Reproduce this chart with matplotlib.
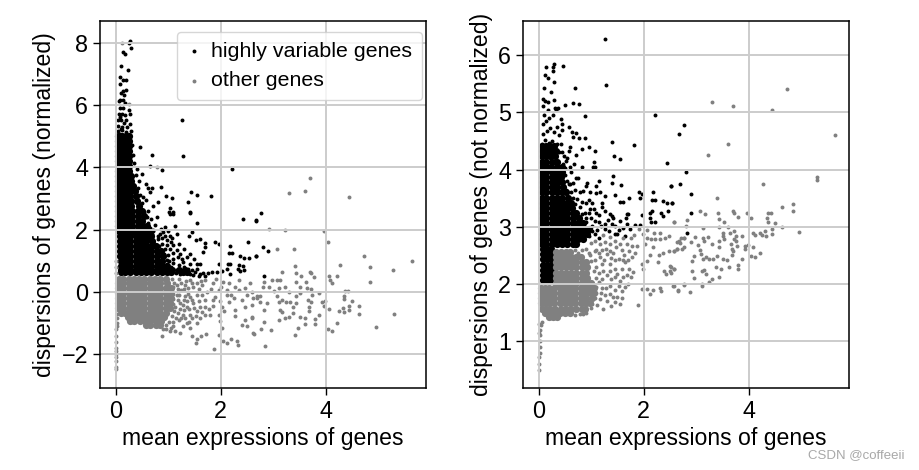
import numpy as np
import matplotlib
matplotlib.use("Agg")
import matplotlib.pyplot as plt

plt.rcParams['font.family'] = ['Liberation Sans', 'DejaVu Sans']

# values, as (mean, dispersion)
# ---- left panel, normalized dispersions ----
left_hv = [
    (.27,8.05),(.26,7.97),(.29,7.84),(.15,7.68),(.18,7.63),(.11,7.26),(.23,7.12),(.08,6.89),(.15,6.81),(.2,6.8),
    (.08,6.66),(.2,6.49),(.15,6.44),(.1,6.39),(.17,6.33),(.08,6.17),(.15,6.17),(.07,6.12),(.18,6.05),(1.26,5.51),
    (.46,4.65),(.7,4.4),(1.28,4.35),(.65,4.04),(.89,3.92),(2.22,3.94),(.5,3.78),(.58,3.45),(.86,3.36),(.69,3.33),
    (.62,3.33),(.65,3.2),(1.43,3.22),(1.54,3.11),(1.82,3.09),(.95,3.09),(1.07,3.0),(1.37,2.87),(.81,2.9),(.58,2.94),
    (.53,3.06),(.72,2.75),(1.03,2.69),(1.42,2.58),(1.02,2.55),(1.1,2.55),(2.43,2.34),(2.67,2.29),(1.55,2.21),(1.42,2.53),
    (2.51,1.6),(2.18,1.49),(1.89,1.6),(1.96,1.55),(1.7,1.58),(1.61,1.7),(1.53,1.67),(1.46,1.92),(1.4,1.79),(1.13,2.13),
    (.94,2.07),(.75,2.16),(1.03,1.81),(.94,1.81),(1.17,1.86),(.84,1.86),(1.7,1.44),(1.67,1.28),(1.42,1.23),(1.23,1.23),
    (1.03,1.39),(.94,1.39),(.83,1.49),(2.15,1.25),(2.21,1.25),(2.37,1.15),(2.44,1.1),(2.53,1.1),(2.67,1.15),(1.96,.89),
    (2.13,.91),(2.18,.89),(2.35,.86),(2.43,.84),(2.32,.75),(2.37,.67),(2.45,.7),(2.11,.75),(2.17,.59),(2.02,.67),
    (1.92,.65),(1.84,.65),(1.7,.5),(1.61,.57),(1.51,.65),(1.42,.91),(1.54,.91),(1.32,.7),(1.19,1.12),(1.1,1.07),
    (.97,1.02),(.88,.91),(1.29,.96),(1.16,.7),(1.0,.75),(1.42,.59),(1.23,.59),(.78,2.39),(1.03,2.5),(1.1,2.5),
    (2.77,2.52),(2.67,2.31),(2.81,1.43),(2.89,1.3),(2.67,1.16),(2.83,.51),(.62,2.6),(.68,2.35),(.8,1.7),(.72,1.6),
    (.72,1.95),(.8,1.78),(.88,1.72),(.98,1.68),(1.08,1.72),(.76,1.5),(.88,1.55),(.98,1.5),(1.1,1.52),(1.2,1.55),
    (.82,1.3),(.92,1.22),(1.0,1.18),(1.1,1.25),(1.17,1.35),(1.3,1.38),(1.36,1.12),(1.26,1.05),(1.02,.98),(1.1,.92),
    (1.2,.85),(1.3,.8),(1.38,.75),(1.46,.72),(1.55,.75),(1.6,.9),(1.66,.62),(1.75,.6),(.98,.9),(.92,.78),
    (1.06,.8),(1.15,.6),(1.5,1.05),(1.36,.62),(1.48,.55),(1.58,.52),(.66,1.72),(.7,1.85),(.86,2.02),(.9,1.92),
    (1.0,1.95),(1.05,1.6),(.72,2.0),(.62,2.2),(.66,2.05),(.55,2.55),(.6,2.42),(.5,2.85),(.47,3.1),(.42,3.35),
    (.44,3.55),(.38,3.75),(.4,3.95),(.35,4.15),(.33,4.4),(.32,4.7),(.3,5.15),(.28,5.4),(.27,5.7),(.25,5.85),
    (.08,5.9),(.14,5.9),(.06,5.7),(.12,5.72),(.18,5.68),(.05,5.5),(.11,5.5),(.2,5.52),(.05,5.32),(.12,5.3),
    (.22,5.3),(.05,5.16),(.13,5.18),(.2,5.14),(.08,5.6),(.16,5.42),(.1,5.22),(.08,5.05),
]
left_other = [
    (.13,8.0),(.78,4.02),(.26,6.02),(3.69,3.65),(3.3,3.17),(3.61,3.24),(4.43,3.03),(2.91,2.02),(3.22,1.99),(3.96,1.95),
    (4.03,1.59),(3.06,1.37),(3.4,1.37),(4.72,1.14),(4.83,.81),(4.26,.87),(5.63,.99),(5.28,.7),(3.42,.84),(3.17,.65),
    (3.43,.61),(3.53,.52),(3.69,.65),(3.71,.6),(3.77,.49),(4.06,.52),(4.2,.52),(4.08,.37),(4.11,.3),(4.83,.32),
    (2.82,.32),(2.98,.37),(3.07,.38),(3.12,.37),(2.81,.17),(2.91,.17),(3.02,.03),(3.11,.12),(3.23,.17),(3.43,.32),
    (3.62,.32),(3.51,.15),(3.64,.13),(3.72,.09),(3.3,.01),(3.51,-.04),(3.73,-.1),(3.86,-.04),(3.43,-.13),(3.07,-.13),
    (2.75,-.12),(2.69,-.13),(2.62,-.2),(2.75,-.31),(2.88,-.34),(3.17,-.26),(3.1,-.31),(3.24,-.31),(3.32,-.32),(3.43,-.34),
    (3.65,-.26),(3.72,-.33),(3.67,-.47),(3.68,-.6),(3.92,-.31),(3.99,-.28),(3.96,-.44),(4.06,-.55),(4.35,-.12),(4.35,-.23),
    (4.37,.04),(4.42,.04),(4.49,-.29),(4.43,-.44),(4.43,-.59),(4.32,-.52),(4.34,-.64),(4.25,-.6),(4.62,-.45),(4.63,-.7),
    (5.29,-.7),(4.95,-1.12),(4.2,-.99),(4.03,-1.19),(4.11,-1.26),(3.87,-.73),(3.79,-.87),(3.79,-1.02),(3.61,-1.02),(3.6,-.84),
    (3.51,-.81),(3.46,-1.14),(3.42,-1.37),(3.38,-.68),(3.37,-.49),(3.29,-.79),(3.23,-.84),(3.13,-.57),(3.17,-.64),(3.1,-.89),
    (2.83,-.57),(2.83,-.95),(2.59,-.83),(2.77,-1.19),(2.95,-1.21),(2.63,-1.34),(2.85,-1.74),(1.87,-1.84),(2.05,-1.58),(2.11,-1.65),
    (2.19,-1.52),(2.3,-1.58),(2.32,-1.7),(1.53,-1.65),(1.54,-1.5),(1.72,-1.34),(1.63,-1.4),(1.45,-1.4),(1.96,-1.37),(1.23,-1.31),
    (1.13,-1.26),(.88,-1.4),(1.03,-1.26),(2.02,-1.15),(1.99,-.94),(1.96,-.73),(1.8,-.73),(1.7,-.73),(1.61,-.84),(1.54,-1),
    (1.42,-1.15),(1.35,-1),(2.4,-1.05),(2.49,-1.08),(2.62,-1.31),(2.46,-.89),(2.59,-.8),(2.27,-.57),(2.27,-.76),(2.07,-.62),
    (2.46,-.47),(2.59,-.41),(2.69,-.2),(2.46,.12),(2.56,.28),(2.27,.17),(2.05,.33),(1.86,.28),(1.96,.06),(2.11,-.1),
    (1.89,-.15),(2.15,-.31),(1.86,-.25),(1.7,-.25),(1.73,.01),(1.54,-.1),(1.42,-.15),(1.61,-.47),(1.7,-.47),(1.48,-.36),
    (1.35,-.47),(1.54,-.62),(1.42,-.73),(1.29,-.73),(1.19,-.68),(1.23,-.36),(1.13,-.47),(1.16,-.1),(1.64,.22),(1.48,.17),
    (1.32,.22),(1.16,.22),(1.42,.38),(1.7,.38),(1.25,.05),(1.3,-.25),(1.2,-.9),(1.1,-1.1),(.95,-1.2),
    (1.08,.4),(1.12,.3),(1.2,.42),(1.1,.15),(1.18,.08),(1.1,-.05),(1.2,-.1),(1.3,.1),(1.38,.12),(1.1,-.22),
    (1.18,-.25),(1.38,-.05),(1.32,-.12),(1.1,-.38),(1.28,-.42),(1.36,-.3),(1.45,-.25),(1.12,-.6),(1.22,-.55),(1.3,-.58),
    (1.4,-.55),(1.5,-.5),(1.08,-.78),(1.15,-.85),(1.25,-.85),(1.32,-.85),(1.46,-.85),(1.52,-.78),(1.02,-.95),(1.1,-.95),
    (1.28,-1.1),(1.4,-.95),(.95,-1.05),(.9,-1.2),(1.05,-1.15),(1.58,.1),(1.55,.28),(1.62,.35),(1.45,.3),(1.58,-.3),
    (1.65,-.65),(1.78,-.55),(1.85,-.45),(1.98,-.3),(1.65,-.1),(1.82,.1),(2.0,.15),(2.12,.05),(2.2,-.1),(2.25,-.2),
    (2.02,-.48),(1.9,.4),(2.15,.3),(2.35,.05),(2.4,-.25),(2.5,-.1),(2.6,.0),(2.35,.38),(1.25,.3),(1.33,.35),
    (.01,.6),(.01,.8),(.01,1.0),(.01,-1.2),(.01,-1.4),(.01,-1.6),(.01,-1.8),(.01,-1.9),(.01,-2.0),(.01,-2.1),(.01,-2.2),
    (.01,-2.4),(.01,-2.47),(.02,-.7),(.03,-.85),(.03,-1.0),(.02,-1.1),
]
# dense core, one row per dispersion level
left_hv_core = [
    (5.0,[.05,.12,.19,.26]),(4.84,[.04,.11,.18,.25]),(4.68,[.04,.11,.18,.26]),(4.52,[.04,.11,.18,.25]),
    (4.36,[.04,.11,.18,.26]),(4.2,[.04,.11,.18,.25]),(4.04,[.04,.11,.18,.26]),(3.88,[.04,.11,.18,.26]),
    (3.72,[.04,.12,.2,.29]),(3.56,[.04,.12,.2,.3]),(3.4,[.04,.12,.2,.28,.34]),(3.24,[.04,.12,.2,.28,.37]),
    (3.08,[.04,.12,.2,.28,.38]),(2.92,[.04,.12,.2,.3,.41]),(2.76,[.04,.12,.2,.3,.44]),(2.6,[.04,.12,.22,.32,.42,.5]),
    (2.44,[.04,.12,.22,.32,.42,.54]),(2.28,[.04,.12,.22,.32,.42,.5]),(2.12,[.04,.12,.22,.32,.42,.52,.6]),
    (1.96,[.06,.14,.24,.34,.44,.54,.64]),(1.8,[.09,.18,.28,.38,.48,.58,.67]),(1.64,[.09,.18,.28,.38,.48,.58,.7]),
    (1.48,[.09,.18,.28,.38,.48,.58,.68,.76]),(1.32,[.09,.18,.28,.38,.48,.58,.68,.78,.86]),
    (1.16,[.09,.18,.28,.38,.48,.58,.68,.78,.9]),(1.0,[.1,.18,.28,.38,.48,.58,.68,.78,.88]),
    (.84,[.1,.18,.28,.38,.48,.58,.68,.78,.88,.98]),(.7,[.1,.18,.28,.38,.48,.58,.68,.78,.88,.98,1.08,1.2,1.32]),
    (.64,[.1,.18,.28,.38,.48,.58,.68,.78,.88,.98,1.06,1.28,1.36]),
]
left_other_core = [
    (.42,[.06,.15,.25,.35,.45,.55,.65,.75,.85,.95]),(.28,[.05,.15,.25,.35,.45,.55,.65,.75,.85,.97]),
    (.12,[.05,.15,.25,.35,.45,.55,.65,.75,.85,.95,1.05]),(-.04,[.05,.15,.25,.35,.45,.55,.65,.75,.85,.95,1.04]),
    (-.2,[.05,.15,.25,.35,.45,.55,.65,.75,.85,.95,1.05]),(-.36,[.05,.15,.25,.35,.45,.55,.65,.75,.85,.95,1.03]),
    (-.52,[.05,.15,.25,.35,.45,.55,.65,.75,.85,.95,1.03]),(-.66,[.1,.18,.27,.35,.45,.55,.65,.75,.85,.95]),
    (-.8,[.24,.32,.42,.52,.62,.72,.82,.92]),(-.94,[.27,.36,.46,.56,.66,.76,.86]),(-1.06,[.58,.66,.76,.84]),
]

# ---- right panel, raw dispersions ----
right_hv = [
    (1.26,6.28),(1.28,5.48),(.46,5.82),(.29,5.84),(.27,5.8),(.27,5.72),(.15,5.8),(.13,5.65),(.18,5.61),(.29,5.53),
    (.1,5.43),(.23,5.36),(.7,5.42),(.09,5.24),(.12,5.2),(.18,5.19),(.29,5.21),(.09,5.12),(.51,5.13),(.65,5.16),
    (.77,5.15),(.31,5.08),(.37,5.08),(.34,5.04),(.18,5.04),(.89,4.93),(2.22,4.96),(2.77,4.78),(2.67,4.63),(.42,4.88),
    (.44,4.79),(.58,4.75),(.44,4.7),(.64,4.65),(.71,4.64),(.66,4.57),(.76,4.56),(.88,4.56),(1.39,4.48),(1.82,4.43),
    (.95,4.4),(.83,4.36),(1.07,4.33),(.6,4.39),(.57,4.32),(.72,4.25),(1.43,4.23),(1.54,4.18),(1.05,4.14),(1.07,4.05),
    (1.03,4.05),(2.44,4.11),(.82,4.04),(.68,4.1),(1.42,3.89),(1.4,3.77),(1.56,3.73),(2.51,3.71),(2.69,3.75),(.72,3.85),
    (.75,3.85),(.66,3.76),(.57,3.75),(.93,3.77),(1.14,3.8),(1.09,3.72),(.91,3.72),(.85,3.63),(.98,3.6),(1.1,3.59),
    (1.17,3.6),(1.26,3.54),(1.45,3.56),(1.9,3.61),(1.96,3.58),(1.93,3.5),(2.17,3.6),(2.15,3.47),(2.21,3.47),(2.37,3.45),
    (2.44,3.41),(2.53,3.41),(1.71,3.51),(1.61,3.44),(1.54,3.43),(.96,3.47),(1.05,3.31),(1.21,3.41),(1.21,3.34),(.82,3.43),
    (.79,3.34),(.88,3.24),(.98,3.31),(1.26,3.28),(1.36,3.22),(1.42,3.16),(1.7,3.23),(1.66,3.16),(1.96,3.21),(2.12,3.25),
    (2.15,3.27),(2.32,3.25),(2.37,3.19),(2.46,3.27),(2.11,3.16),(1.83,3.03),(1.93,3.03),(2.13,3.09),(2.22,3.08),(1.74,2.96),
    (1.64,2.84),(1.49,2.87),(1.39,3.19),(1.68,3.22),(1.07,3.1),(.91,3.08),(1.14,3.08),(1.26,3.05),(1.39,3.05),(1.55,3.1),
    (1.01,2.93),(1.07,2.87),(.95,2.84),(1.14,2.81),(1.26,2.96),(.88,2.93),(2.8,3.96),(2.52,3.71),(2.9,3.58),(2.53,3.41),
    (2.89,3.25),(2.83,2.89),(.53,4.15),(.48,4.24),(.5,4.02),(.42,4.45),(.38,4.6),
    (.55,4.2),(.6,4.05),(.62,3.95),(.5,3.9),(.55,3.8),(.52,3.65),(.62,3.6),(.7,3.65),(.66,3.5),(.74,3.48),
    (.78,3.6),(.7,3.4),(.72,3.25),(.82,3.22),(.9,3.42),(.95,3.25),(1.02,3.42),(1.1,3.25),(1.15,3.2),(.78,3.12),
    (.9,3.15),(1.0,3.15),(1.02,3.02),(1.12,2.95),(1.18,3.02),(1.32,3.12),(1.45,3.02),(1.52,2.95),(1.34,2.92),(1.45,2.88),
    (1.6,2.98),(1.68,3.05),(.98,2.98),(.6,3.75),(.46,4.1),(.44,4.3),(.36,4.45),(.38,4.3),(.35,4.75),(.2,4.9),
    (.1,4.95),(.28,4.95),(.08,4.8),(.14,4.85),(.22,4.72),(.3,4.65),(.08,4.62),(.16,4.68),(.26,4.5),(.12,4.52),
    (.2,4.47),(.06,4.45),
]
right_other = [
    (2.57,3.08),(1.89,1.64),(1.96,1.92),(2.06,1.92),(2.12,1.83),(2.17,1.89),(2.31,1.93),(2.33,1.88),(2.57,1.97),(2.65,1.9),
    (2.77,2),(2.43,2.17),(2.39,2.23),(2.5,2.32),(2.5,2.22),(2.58,2.26),(1.96,2.35),(1.99,2.26),(2.06,2.41),(2.27,2.39),
    (2.28,2.5),(2.37,2.55),(2.47,2.58),(2.57,2.57),(2.64,2.61),(2.72,2.61),(2.76,2.81),(2.66,2.76),(2.47,2.84),(2.4,2.81),
    (2.31,2.79),(2.22,2.79),(2.13,2.79),(2.06,2.81),(2.03,2.7),(2.18,2.64),(2.12,2.5),(2.2,2.9),(2.31,2.9),(2.06,2.94),
    (1.9,2.96),(1.99,2.87),(1.84,2.55),(1.87,2.67),(1.77,2.67),(1.71,2.58),(1.68,2.7),(1.55,2.7),(1.45,2.76),(1.36,2.7),
    (1.26,2.73),(1.17,2.7),(1.77,2.47),(1.64,2.38),(1.52,2.44),(1.42,2.55),(1.3,2.52),(1.17,2.47),(1.2,2.35),(1.36,2.35),
    (1.8,2.21),(1.71,2.26),(1.58,2.26),(1.45,2.26),(1.3,2.15),(1.45,2.12),(1.61,2.12),(1.14,2.03),(1.36,1.97),(1.52,1.97),
    (1.64,1.94),(1.42,1.77),(1.59,1.76),(1.26,1.8),(1.17,1.74),(1.54,1.65),(1.23,1.57),(1.12,1.64),(1.07,2.58),(.98,2.5),
    (4.72,5.41),(3.3,5.18),(3.69,5.11),(4.44,5.04),(5.63,4.61),(3.6,4.45),(3.23,4.26),(5.29,3.87),(5.29,3.82),(4.26,3.74),
    (3.4,3.5),(4.62,3.35),(4.83,3.4),(4.83,3.28),(3.06,3.28),(3.17,3.22),(3.42,3.24),(3.69,3.28),(3.71,3.25),(3.79,3.18),
    (3.96,3.25),(4.04,3.16),(4.37,3.25),(4.42,3.24),(4.35,3.15),(4.36,3.08),(4.49,3.06),(4.63,3),(4.43,2.96),(4.95,2.91),
    (3.43,3.14),(3.53,3.08),(2.57,3.08),(2.82,3.12),(2.8,3.02),(3.12,2.98),(3.43,2.99),(3.61,2.99),(3.71,2.93),(3.63,2.89),
    (3.5,2.9),(3.5,2.84),(3.52,2.78),(3.75,2.84),(3.87,2.84),(3.71,2.78),(3.76,2.75),(3.43,2.75),(3.43,2.65),(3.66,2.7),
    (3.77,2.67),(3.23,2.82),(3.3,2.7),(3.13,2.81),(3.15,2.75),(2.98,2.82),(2.9,2.73),(2.76,2.81),(2.7,2.8),(2.64,2.74),
    (2.68,2.71),(2.76,2.64),(2.64,2.61),(2.57,2.57),(3.03,2.68),(3.06,2.6),(3.09,2.52),(3.12,2.44),(2.95,2.49),(2.91,2.4),
    (3.19,2.48),(3.24,2.43),(3.32,2.44),(3.39,2.49),(3.5,2.43),(3.59,2.42),(3.68,2.5),(3.68,2.61),(3.7,2.57),(3.87,2.44),
    (3.79,2.33),(3.8,2.26),(3.62,2.3),(3.38,2.29),(3.46,2.26),(3.15,2.24),(3.1,2.23),(3.19,2.18),(2.91,2.22),(2.58,2.26),
    (2.51,2.3),(2.51,2.2),(3.43,2.13),(3.29,2.09),(3.24,2.03),(2.95,2.1),(3.11,2),(3.11,1.96),(2.77,1.99),(2.56,1.96),
    (2.65,1.88),(2.88,1.86),(3.92,2.67),(3.93,2.61),(3.99,2.68),(4.07,2.65),(4.03,2.49),(4.12,2.48),(4.2,2.54),(4.08,2.9),
    (4.12,2.86),(4.2,2.9),(4.25,2.86),(4.31,2.92),(4.33,2.84),(4.43,2.87),
    (1.08,2.75),(1.0,2.72),(1.1,2.6),(1.2,2.6),(1.15,2.55),(1.28,2.62),(1.35,2.58),(1.48,2.65),(1.58,2.6),(1.62,2.5),
    (1.0,2.4),(1.08,2.42),(1.1,2.3),(1.25,2.42),(1.38,2.45),(1.45,2.42),(1.6,2.42),(1.7,2.42),(1.05,2.22),(1.15,2.2),
    (1.22,2.22),(1.35,2.22),(1.5,2.18),(1.68,2.16),(1.75,2.12),(1.1,2.1),(1.2,2.08),(1.38,2.08),(1.55,2.05),(1.7,2.0),
    (1.1,1.95),(1.2,1.93),(1.28,1.93),(1.45,1.9),(1.58,1.88),(1.1,1.85),(1.18,1.85),(1.35,1.82),(1.5,1.78),(1.08,1.75),
    (1.3,1.7),(1.45,1.68),(1.02,1.65),(1.38,1.62),(1.0,1.58),(.9,1.5),(.85,1.48),(.78,1.48),(.7,1.45),(.9,2.62),
    (.82,2.6),(.75,2.55),(.7,2.6),(.95,2.55),(1.75,2.8),(1.6,2.8),(1.82,2.85),(1.35,2.82),(1.22,2.85),
    (.01,.5),(.01,.6),(.01,.72),(.02,.8),(.02,.9),(.02,1.0),(.03,1.1),(.03,1.2),(.04,1.28),(.06,1.34),(.01,1.15),(.01,1.3),
]
right_hv_core = [
    (4.41,[.06,.14,.22,.3]),(4.32,[.06,.14,.24,.34]),(4.23,[.06,.14,.22,.32]),(4.14,[.06,.15,.25,.35]),(4.05,[.06,.14,.24,.36,.44]),
    (3.96,[.06,.15,.25,.35,.45]),(3.87,[.06,.15,.25,.35,.42]),(3.78,[.06,.15,.25,.35,.45]),(3.69,[.06,.15,.25,.35,.46]),
    (3.6,[.06,.15,.25,.35,.45,.52]),(3.51,[.06,.15,.25,.35,.45,.56]),(3.42,[.06,.15,.25,.35,.45,.55,.62]),
    (3.33,[.06,.15,.25,.35,.45,.55,.64]),(3.24,[.06,.15,.25,.35,.45,.55,.65,.72]),(3.15,[.06,.15,.25,.35,.45,.55,.65,.76]),
    (3.06,[.06,.15,.25,.35,.45,.55,.65,.75,.85]),(2.97,[.06,.15,.25,.35,.45,.55,.65,.75,.85,.95]),
    (2.88,[.06,.15,.25,.35,.45,.55,.65,.75,.85,.93]),(2.79,[.06,.15,.25,.35,.45,.55,.65,.75,.85]),
    (2.7,[.06,.15,.25,.35,.45,.55,.65,.72]),(2.62,[.08,.16,.24]),(2.52,[.09,.16,.23]),(2.43,[.09,.16,.23]),
    (2.34,[.09,.16,.23]),(2.25,[.09,.16,.23]),(2.16,[.09,.16,.23]),(2.07,[.09,.16,.23]),
]
right_other_core = [
    (2.56,[.33,.42,.52,.6]),(2.47,[.33,.42,.52,.62,.72,.8]),(2.38,[.33,.42,.52,.62,.72,.82,.9]),
    (2.29,[.33,.42,.52,.62,.72,.82,.92]),(2.2,[.33,.42,.52,.62,.72,.82,.9]),(2.11,[.33,.42,.52,.62,.72,.82,.92]),
    (2.02,[.33,.42,.52,.62,.72,.82,.92,1.0]),(1.93,[.04,.12,.2,.3,.4,.5,.6,.7,.8,.9,1.0,1.05]),
    (1.84,[.04,.12,.2,.3,.4,.5,.6,.7,.8,.9,1.0,1.06]),(1.75,[.04,.12,.2,.3,.4,.5,.6,.7,.8,.9,1.02]),
    (1.66,[.04,.12,.2,.3,.4,.5,.6,.7,.8,.9,.98]),(1.57,[.07,.14,.22,.32,.42,.52,.62,.72,.82,.88]),
    (1.49,[.12,.2,.3,.4,.5,.6]),(1.43,[.2,.28,.36]),
]

# tick values and labels
left_yticks = [-2, 0, 2, 4, 6, 8]
right_yticks = [1, 2, 3, 4, 5, 6]
xticks = [0, 2, 4]
xlabel = 'mean expressions of genes'
ylabels = ['dispersions of genes (normalized)', 'dispersions of genes (not normalized)']
legend_labels = ['highly variable genes', 'other genes']


def expand(rows):
    xs, ys = [], []
    for y, row in rows:
        xs += row
        ys += [y] * len(row)
    return xs, ys


def draw(ax, hv, other, hv_core, other_core):
    a = np.array(hv)
    b = np.array(other)
    ax.scatter(*expand(hv_core), s=27, c='black', linewidths=0)
    ax.scatter(a[:, 0], a[:, 1], s=8, c='black', linewidths=0, label=legend_labels[0])
    ax.scatter(*expand(other_core), s=27, c='#808080', linewidths=0)
    ax.scatter(b[:, 0], b[:, 1], s=8, c='#808080', linewidths=0, label=legend_labels[1])


W, H = 920, 470
fig = plt.figure(figsize=(W / 100, H / 100), dpi=100)
ax1 = fig.add_axes([100 / W, 1 - 388 / H, 326 / W, 367 / H])
ax2 = fig.add_axes([523 / W, 1 - 388 / H, 326 / W, 367 / H])

draw(ax1, left_hv, left_other, left_hv_core, left_other_core)
draw(ax2, right_hv, right_other, right_hv_core, right_other_core)

ax1.set_xlim(-0.295, 5.9)
ax1.set_ylim(-3.08, 8.69)
ax2.set_xlim(-0.295, 5.9)
ax2.set_ylim(0.18, 6.6)
ax1.set_yticks(left_yticks)
ax2.set_yticks(right_yticks)

for ax, lab in zip([ax1, ax2], ylabels):
    ax.set_xticks(xticks)
    ax.grid(True, color='#cccccc', linewidth=1.4)
    ax.tick_params(labelsize=16.8, width=1, length=5)
    ax.set_xlabel(xlabel, fontsize=16.6, labelpad=3)
    ax.set_ylabel(lab, fontsize=16.6, labelpad=4)
    for sp in ax.spines.values():
        sp.set_linewidth(1.1)

ax1.legend(loc='upper left', bbox_to_anchor=(0.236, 0.97), borderaxespad=0, fontsize=15.4,
           handlelength=0.7, handletextpad=0.45, labelspacing=0.5, borderpad=0.45, framealpha=0.8)

fig.text(905 / W, 1 - 455 / H, 'CSDN @coffeeii', ha='right', va='center', fontsize=9.5, color='#a8a8a8')

fig.savefig('out.png', dpi=100)
